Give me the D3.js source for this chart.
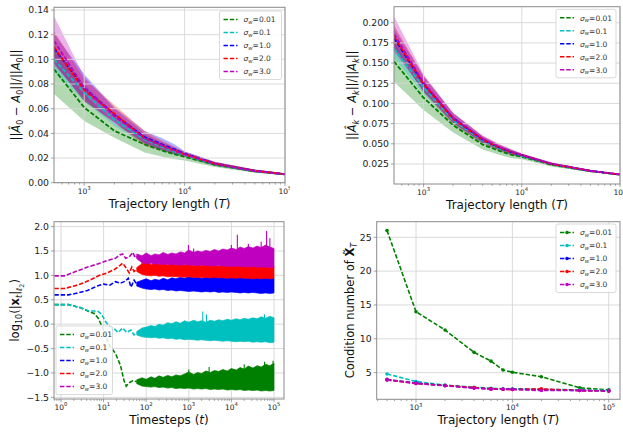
<!DOCTYPE html>
<html>
<head>
<meta charset="utf-8">
<script src="https://cdn.jsdelivr.net/npm/d3@7"></script>
<style>
body { margin: 0; background: #fff; }
svg text { font-family: "DejaVu Sans", sans-serif; }
</style>
</head>
<body>
<script>
// ---- data ----
const trajLen = [500, 1000, 2000, 4000, 6000, 8000, 10000, 20000, 50000, 100000];
const sigmaLabels = ["0.01", "0.1", "1.0", "2.0", "3.0"];
const colors = ["#008000", "#00bfbf", "#0000ff", "#ff0000", "#bf00bf"];

// relative error of A0 (mean, half band) per sigma
const a0Mean = [
    [0.092, 0.061, 0.042, 0.031, 0.026, 0.023, 0.021, 0.0145, 0.0092, 0.0068],
    [0.100, 0.073, 0.051, 0.035, 0.029, 0.025, 0.0225, 0.015, 0.0095, 0.0068],
    [0.109, 0.077, 0.055, 0.037, 0.031, 0.027, 0.0235, 0.0155, 0.0097, 0.0069],
    [0.110, 0.075, 0.056, 0.036, 0.030, 0.026, 0.023, 0.0155, 0.0097, 0.0069],
    [0.115, 0.077, 0.054, 0.036, 0.030, 0.026, 0.023, 0.0152, 0.0095, 0.0068]
];
const a0Band = [
    [0.020, 0.011, 0.0055, 0.0065, 0.005, 0.004, 0.003, 0.0018, 0.0012, 0.0008],
    [0.010, 0.007, 0.005, 0.004, 0.003, 0.0025, 0.002, 0.0015, 0.001, 0.0007],
    [0.012, 0.011, 0.006, 0.005, 0.005, 0.004, 0.002, 0.0015, 0.001, 0.0007],
    [0.013, 0.009, 0.007, 0.006, 0.004, 0.003, 0.002, 0.0015, 0.001, 0.0007],
    [0.020, 0.009, 0.006, 0.004, 0.003, 0.0025, 0.002, 0.0015, 0.001, 0.0007]
];

// relative error of Ak
const akMean = [
    [0.152, 0.107, 0.073, 0.049, 0.041, 0.036, 0.034, 0.024, 0.0160, 0.0118],
    [0.168, 0.120, 0.079, 0.054, 0.044, 0.039, 0.035, 0.025, 0.0163, 0.0119],
    [0.181, 0.124, 0.082, 0.055, 0.045, 0.039, 0.036, 0.025, 0.0165, 0.0120],
    [0.183, 0.124, 0.081, 0.055, 0.045, 0.039, 0.036, 0.025, 0.0165, 0.0120],
    [0.186, 0.126, 0.082, 0.056, 0.046, 0.040, 0.036, 0.0255, 0.0166, 0.0120]
];
const akBand = [
    [0.025, 0.015, 0.009, 0.006, 0.005, 0.004, 0.003, 0.002, 0.001, 0.0006],
    [0.012, 0.008, 0.005, 0.004, 0.003, 0.003, 0.002, 0.0015, 0.001, 0.0006],
    [0.012, 0.010, 0.006, 0.004, 0.003, 0.003, 0.002, 0.0015, 0.001, 0.0006],
    [0.014, 0.010, 0.007, 0.005, 0.004, 0.003, 0.002, 0.0015, 0.001, 0.0006],
    [0.022, 0.010, 0.006, 0.004, 0.003, 0.003, 0.002, 0.0015, 0.001, 0.0006]
];

// condition number of X_T
const condNum = [
    [26.0, 14.0, 11.3, 8.0, 6.7, 5.4, 5.05, 4.4, 2.75, 2.45],
    [4.8, 3.7, 3.15, 2.85, 2.7, 2.6, 2.6, 2.55, 2.45, 2.35],
    [4.0, 3.45, 3.1, 2.75, 2.6, 2.55, 2.55, 2.5, 2.35, 2.3],
    [3.95, 3.4, 3.1, 2.8, 2.6, 2.55, 2.5, 2.6, 2.35, 2.3],
    [3.9, 3.4, 3.05, 2.7, 2.55, 2.55, 2.5, 2.35, 2.35, 2.3]
];

// log10 of state norm: smooth start [t, value]
const normEarly = [
    [[0.7, 0.4], [1.5, 0.4], [2.8, 0.34], [4.5, 0.26], [6, 0.22], [7.5, 0.12], [10, -0.12], [14, -0.45], [19, -0.6], [25, -0.85], [30, -1.15], [34, -1.27], [40, -1.2], [48, -1.16], [60, -1.18]],
    [[0.7, 0.4], [1.5, 0.4], [2.8, 0.34], [4.5, 0.27], [6, 0.27], [7.5, 0.26], [9, 0.2], [11, 0.06], [14, -0.06], [18, -0.1], [22, -0.17], [28, -0.08], [35, -0.17], [44, -0.12], [52, -0.22], [60, -0.18]],
    [[0.7, 0.6], [1.5, 0.6], [2.5, 0.64], [4.2, 0.69], [7, 0.78], [10, 0.82], [14, 0.8], [19, 0.87], [25, 0.84], [32, 0.88], [38, 0.94], [44, 0.76], [52, 0.9], [60, 0.82]],
    [[0.7, 0.73], [1.2, 0.73], [2.2, 0.79], [3.5, 0.85], [5.5, 0.93], [8, 1.0], [12, 1.05], [18, 1.12], [24, 1.2], [28, 1.25], [34, 1.15], [40, 1.05], [46, 1.17], [52, 1.08], [60, 1.12]],
    [[0.7, 0.99], [1.2, 0.99], [2.4, 1.09], [4.2, 1.17], [7, 1.23], [12, 1.3], [19, 1.35], [24, 1.42], [28, 1.44], [33, 1.35], [40, 1.38], [49, 1.47], [55, 1.36], [60, 1.39]]
];
// noisy part: envelope of the fluctuations
const noiseT = [60, 80, 100, 130, 160, 200, 250, 320, 400, 500, 630, 800, 1000, 1300, 1600, 2000, 2500,
    3200, 4000, 5000, 6300, 8000, 10000, 13000, 16000, 20000, 25000, 32000, 40000, 50000, 63000, 80000, 100000];
const noiseHi = [
    [-1.14, -1.10, -1.13, -1.08, -1.11, -1.06, -1.09, -1.05, -1.08, -1.04, -1.06, -1.02, -0.98, -1.03, -0.99, -1.01, -0.96,
        -0.99, -0.95, -0.97, -0.93, -0.96, -0.91, -0.94, -0.89, -0.92, -0.86, -0.90, -0.85, -0.88, -0.82, -0.85, -0.80],
    [-0.15, -0.08, -0.06, -0.03, -0.05, 0.0, -0.02, 0.03, 0.01, 0.05, 0.02, 0.07, 0.04, 0.08, 0.05, 0.07, 0.04,
        0.08, 0.06, 0.09, 0.07, 0.10, 0.08, 0.11, 0.09, 0.12, 0.10, 0.13, 0.11, 0.15, 0.12, 0.16, 0.13],
    [0.86, 0.90, 0.93, 0.89, 0.92, 0.90, 0.94, 0.91, 0.95, 0.93, 0.96, 0.94, 0.97, 0.95, 0.96, 0.94, 0.96,
        0.95, 0.97, 0.95, 0.96, 0.94, 0.96, 0.95, 0.96, 0.94, 0.95, 0.94, 0.96, 0.94, 0.95, 0.94, 0.95],
    [1.16, 1.24, 1.28, 1.22, 1.26, 1.23, 1.25, 1.22, 1.24, 1.21, 1.23, 1.21, 1.22, 1.20, 1.22, 1.20, 1.21,
        1.20, 1.21, 1.19, 1.21, 1.20, 1.21, 1.19, 1.20, 1.19, 1.20, 1.19, 1.20, 1.19, 1.20, 1.19, 1.19],
    [1.44, 1.40, 1.46, 1.40, 1.44, 1.42, 1.47, 1.43, 1.46, 1.44, 1.48, 1.46, 1.52, 1.47, 1.50, 1.48, 1.51,
        1.49, 1.53, 1.50, 1.54, 1.52, 1.56, 1.53, 1.58, 1.55, 1.59, 1.56, 1.60, 1.57, 1.62, 1.58, 1.55]
];
const noiseLo = [
    [-1.22, -1.27, -1.28, -1.29, -1.28, -1.30, -1.29, -1.31, -1.30, -1.32, -1.31, -1.32, -1.31, -1.33, -1.32, -1.33, -1.32,
        -1.34, -1.33, -1.34, -1.33, -1.35, -1.34, -1.35, -1.34, -1.36, -1.35, -1.36, -1.35, -1.37, -1.36, -1.37, -1.36],
    [-0.22, -0.26, -0.27, -0.28, -0.27, -0.29, -0.28, -0.30, -0.29, -0.31, -0.30, -0.32, -0.31, -0.32, -0.33, -0.32, -0.33,
        -0.34, -0.33, -0.34, -0.35, -0.34, -0.35, -0.36, -0.35, -0.36, -0.35, -0.37, -0.36, -0.37, -0.36, -0.38, -0.37],
    [0.78, 0.74, 0.72, 0.71, 0.72, 0.70, 0.71, 0.69, 0.70, 0.68, 0.69, 0.68, 0.67, 0.68, 0.67, 0.66, 0.67,
        0.66, 0.67, 0.65, 0.66, 0.65, 0.66, 0.65, 0.64, 0.65, 0.64, 0.65, 0.64, 0.63, 0.64, 0.63, 0.64],
    [1.08, 1.02, 1.00, 0.99, 1.00, 0.98, 0.99, 0.97, 0.98, 0.97, 0.97, 0.96, 0.97, 0.96, 0.96, 0.95, 0.96,
        0.95, 0.96, 0.95, 0.95, 0.94, 0.95, 0.94, 0.95, 0.94, 0.94, 0.93, 0.94, 0.93, 0.94, 0.93, 0.94],
    [1.34, 1.26, 1.24, 1.25, 1.23, 1.24, 1.22, 1.23, 1.22, 1.22, 1.21, 1.22, 1.21, 1.21, 1.20, 1.21, 1.20,
        1.20, 1.19, 1.20, 1.19, 1.19, 1.18, 1.19, 1.18, 1.18, 1.17, 1.18, 1.17, 1.17, 1.17, 1.16, 1.16]
];
// isolated peaks sticking out of the noise [t, value]
const noiseSpikes = [
    [[1000, -0.93], [3000, -0.88], [20000, -0.82], [60000, -0.77], [95000, -0.75]],
    [[2130, 0.26], [2600, 0.2], [60000, 0.2]],
    [],
    [[80, 1.3], [120, 1.29]],
    [[980, 1.62], [1300, 1.55], [10000, 1.62], [13800, 1.83], [25000, 1.65], [50000, 1.69], [67000, 1.91], [80000, 1.76]]
];

const yTicksA0 = [0, 0.02, 0.04, 0.06, 0.08, 0.10, 0.12, 0.14];
const yTicksAk = [0.025, 0.05, 0.075, 0.1, 0.125, 0.15, 0.175, 0.2];
const yTicksNorm = [-1.5, -1.0, -0.5, 0, 0.5, 1.0, 1.5, 2.0];
const yTicksCond = [5, 10, 15, 20, 25];

const DASH = "4.4,1.9";
const svg = d3.select("body").append("svg").attr("width", 623).attr("height", 434);
const defs = svg.append("defs");

// tekst s indexy
function richText(sel, parts, size) {
    let cur = 0;
    parts.forEach(p => {
        const lv = p.lv || 0;
        const off = [0, 0.28, 0.45][lv] * size;
        const fs = [1, 0.7, 0.55][lv] * size;
        sel.append("tspan")
            .attr("dy", off - cur)
            .attr("font-size", fs)
            .attr("font-style", p.it ? "italic" : null)
            .attr("font-weight", p.b ? "bold" : null)
            .text(p.t);
        cur = off;
    });
}

function makeAxes(cfg) {
    const g = svg.append("g");
    if (cfg.clipRight) {
        defs.append("clipPath").attr("id", cfg.id + "_outer")
            .append("rect").attr("x", 0).attr("y", 0).attr("width", cfg.clipRight).attr("height", 434);
        g.attr("clip-path", `url(#${cfg.id}_outer)`);
    }
    defs.append("clipPath").attr("id", cfg.id + "_in")
        .append("rect").attr("x", cfg.left).attr("y", cfg.top)
        .attr("width", cfg.right - cfg.left).attr("height", cfg.bottom - cfg.top);
    const x = d3.scaleLog().domain(cfg.xDomain).range([cfg.left, cfg.right]);
    const y = d3.scaleLinear().domain(cfg.yDomain).range([cfg.bottom, cfg.top]);
    const fills = g.append("g").attr("clip-path", `url(#${cfg.id}_in)`);
    const grid = g.append("g").attr("stroke", "#d6d6d6").attr("stroke-width", 0.9);
    cfg.decades.forEach(k => {
        grid.append("line").attr("x1", x(10 ** k)).attr("x2", x(10 ** k))
            .attr("y1", cfg.top).attr("y2", cfg.bottom);
    });
    cfg.yTicks.forEach(v => {
        grid.append("line").attr("x1", cfg.left).attr("x2", cfg.right)
            .attr("y1", y(v)).attr("y2", y(v));
    });
    const lines = g.append("g").attr("clip-path", `url(#${cfg.id}_in)`);
    // ramecek
    g.append("rect").attr("x", cfg.left).attr("y", cfg.top)
        .attr("width", cfg.right - cfg.left).attr("height", cfg.bottom - cfg.top)
        .attr("fill", "none").attr("stroke", "#8a8a8a").attr("stroke-width", 1);
    const ticks = g.append("g").attr("stroke", "#8a8a8a").attr("stroke-width", 0.8);
    cfg.yTicks.forEach(v => {
        ticks.append("line").attr("x1", cfg.left - 3).attr("x2", cfg.left).attr("y1", y(v)).attr("y2", y(v));
        g.append("text").attr("x", cfg.left - 5).attr("y", y(v) + 3.3)
            .attr("text-anchor", "end").attr("font-size", 9.3).attr("fill", "#222")
            .text(cfg.yFmt(v));
    });
    // minor ticks na log ose
    const [d0, d1] = cfg.xDomain;
    for (let k = Math.floor(Math.log10(d0)); k <= Math.ceil(Math.log10(d1)); k++) {
        for (let m = 2; m < 10; m++) {
            const t = m * 10 ** k;
            if (t > d0 && t < d1) {
                ticks.append("line").attr("x1", x(t)).attr("x2", x(t))
                    .attr("y1", cfg.bottom).attr("y2", cfg.bottom + 1.8);
            }
        }
    }
    cfg.decades.forEach(k => {
        ticks.append("line").attr("x1", x(10 ** k)).attr("x2", x(10 ** k))
            .attr("y1", cfg.bottom).attr("y2", cfg.bottom + 3.2);
        const lbl = g.append("text").attr("x", x(10 ** k)).attr("y", cfg.bottom + 11)
            .attr("text-anchor", "middle").attr("font-size", 7.5).attr("fill", "#222");
        lbl.append("tspan").text("10");
        lbl.append("tspan").attr("font-size", 5.3).attr("dy", -3.6).text(k);
    });
    // popisky os
    const xl = g.append("text").attr("x", (cfg.left + cfg.right) / 2).attr("y", cfg.bottom + 25)
        .attr("text-anchor", "middle").attr("font-size", 12).attr("fill", "#111");
    richText(xl, cfg.xLabel, 12);
    const yl = g.append("text")
        .attr("transform", `translate(${cfg.yLabelX},${(cfg.top + cfg.bottom) / 2}) rotate(-90)`)
        .attr("y", 4.2).attr("text-anchor", "middle").attr("font-size", 11.5).attr("fill", "#111");
    richText(yl, cfg.yLabel, 11.5);
    return { g, fills, lines, x, y };
}

function legend(g, bx, by, bw, withMarker) {
    g.append("rect").attr("x", bx).attr("y", by).attr("width", bw).attr("height", 68.5)
        .attr("rx", 2).attr("fill", "#fff").attr("fill-opacity", 0.85)
        .attr("stroke", "#d0d0d0").attr("stroke-width", 0.8);
    sigmaLabels.forEach((s, i) => {
        const cy = by + 8.5 + i * 13;
        g.append("line").attr("x1", bx + 4).attr("x2", bx + 18).attr("y1", cy).attr("y2", cy)
            .attr("stroke", colors[i]).attr("stroke-width", 1.6).attr("stroke-dasharray", DASH);
        if (withMarker) {
            g.append("circle").attr("cx", bx + 11).attr("cy", cy).attr("r", 1.7).attr("fill", colors[i]);
        }
        const t = g.append("text").attr("x", bx + 24).attr("y", cy + 2.7)
            .attr("font-size", 7.5).attr("fill", "#333");
        t.append("tspan").attr("font-style", "italic").text("σ");
        t.append("tspan").attr("font-style", "italic").attr("font-size", 5.3).attr("dy", 1.8).text("w");
        t.append("tspan").attr("dy", -1.8).text("=" + s);
    });
}

function drawBands(ax, means, bands) {
    const area = d3.area()
        .x((d, i) => ax.x(trajLen[i]))
        .y0(d => ax.y(d[0] - d[1]))
        .y1(d => ax.y(d[0] + d[1]));
    const line = d3.line().x((d, i) => ax.x(trajLen[i])).y(d => ax.y(d));
    means.forEach((m, s) => {
        ax.fills.append("path").datum(m.map((v, i) => [v, bands[s][i]]))
            .attr("d", area).attr("fill", colors[s]).attr("fill-opacity", 0.3);
    });
    means.forEach((m, s) => {
        ax.lines.append("path").datum(m).attr("d", line)
            .attr("fill", "none").attr("stroke", colors[s]).attr("stroke-width", 1.8)
            .attr("stroke-dasharray", DASH);
    });
}

const trajLabel = [{ t: "Trajectory length (" }, { t: "T", it: true }, { t: ")" }];
const fmt2 = d3.format(".2f"), fmt3 = d3.format(".3f"), fmt1 = d3.format(".1f");

function buildTopLeft() {
    const ax = makeAxes({
        id: "tl", left: 54, right: 285, top: 7.3, bottom: 182.7, clipRight: 290,
        xDomain: [500, 100000], yDomain: [0, 0.1422], decades: [3, 4, 5],
        yTicks: yTicksA0, yFmt: fmt2, yLabelX: 16, xLabel: trajLabel,
        yLabel: [{ t: "||" }, { t: "Â", it: 1 }, { t: "0", lv: 1 }, { t: " − " }, { t: "A", it: 1 }, { t: "0", lv: 1 },
            { t: "||/||" }, { t: "A", it: 1 }, { t: "0", lv: 1 }, { t: "||" }]
    });
    drawBands(ax, a0Mean, a0Band);
    legend(ax.g, 219.5, 11, 62, false);
}

function buildTopRight() {
    const ax = makeAxes({
        id: "tr", left: 394, right: 620, top: 6.7, bottom: 184,
        xDomain: [500, 100000], yDomain: [0.0002, 0.2198], decades: [3, 4, 5],
        yTicks: yTicksAk, yFmt: fmt3, yLabelX: 351.5, xLabel: trajLabel,
        yLabel: [{ t: "||" }, { t: "Â", it: 1 }, { t: "k", lv: 1, it: 1 }, { t: " − " }, { t: "A", it: 1 }, { t: "k", lv: 1, it: 1 },
            { t: "||/||" }, { t: "A", it: 1 }, { t: "k", lv: 1, it: 1 }, { t: "||" }]
    });
    drawBands(ax, akMean, akBand);
    legend(ax.g, 556, 9.3, 60, false);
}

function buildBottomLeft() {
    const ax = makeAxes({
        id: "bl", left: 54, right: 284, top: 221.7, bottom: 399,
        xDomain: [10 ** -0.164, 10 ** 5.235], yDomain: [-1.534, 2.10], decades: [0, 1, 2, 3, 4, 5],
        yTicks: yTicksNorm, yFmt: fmt1, yLabelX: 15,
        xLabel: [{ t: "Timesteps (" }, { t: "t", it: true }, { t: ")" }],
        yLabel: [{ t: "log" }, { t: "10", lv: 1 }, { t: "(|" }, { t: "x", b: 1 }, { t: "t", lv: 1, it: 1 }, { t: "|" },
            { t: "ℓ", lv: 1, it: 1 }, { t: "2", lv: 2 }, { t: ")" }]
    });
    const line = d3.line().x(d => ax.x(d[0])).y(d => ax.y(d[1]));
    const area = d3.area()
        .x((d, i) => ax.x(noiseT[i]))
        .y0(d => ax.y(d[0]))
        .y1(d => ax.y(d[1]));
    normEarly.forEach((pts, s) => {
        ax.lines.append("path").datum(pts).attr("d", line)
            .attr("fill", "none").attr("stroke", colors[s]).attr("stroke-width", 1.6)
            .attr("stroke-dasharray", DASH);
        ax.lines.append("path").datum(noiseLo[s].map((v, i) => [v, noiseHi[s][i]]))
            .attr("d", area).attr("fill", colors[s]).attr("stroke", colors[s]).attr("stroke-width", 0.7);
        noiseSpikes[s].forEach(p => {
            const i = Math.min(d3.bisectLeft(noiseT, p[0]), noiseT.length - 1);
            const base = (noiseHi[s][i] + noiseLo[s][i]) / 2;
            ax.lines.append("line").attr("x1", ax.x(p[0])).attr("x2", ax.x(p[0]))
                .attr("y1", ax.y(base)).attr("y2", ax.y(p[1]))
                .attr("stroke", colors[s]).attr("stroke-width", 1.1);
        });
    });
    legend(ax.g, 56, 326, 56.5, false);
}

function buildBottomRight() {
    const ax = makeAxes({
        id: "br", left: 376.7, right: 620, top: 221.7, bottom: 399.3,
        xDomain: [10 ** 2.592, 10 ** 5.117], yDomain: [1.06, 27.3], decades: [3, 4, 5],
        yTicks: yTicksCond, yFmt: d3.format("d"), yLabelX: 350, xLabel: trajLabel,
        yLabel: [{ t: "Condition number of " }, { t: "X\u0303", b: 1 }, { t: "T", lv: 1, it: 1 }]
    });
    const line = d3.line().x((d, i) => ax.x(trajLen[i])).y(d => ax.y(d));
    condNum.forEach((vals, s) => {
        ax.lines.append("path").datum(vals).attr("d", line)
            .attr("fill", "none").attr("stroke", colors[s]).attr("stroke-width", 1.6)
            .attr("stroke-dasharray", DASH);
        ax.lines.selectAll(null).data(vals).enter().append("circle")
            .attr("cx", (d, i) => ax.x(trajLen[i])).attr("cy", d => ax.y(d))
            .attr("r", 1.8).attr("fill", colors[s]);
    });
    legend(ax.g, 556, 224, 60, true);
}

buildTopLeft();
buildTopRight();
buildBottomLeft();
buildBottomRight();
</script>
</body>
</html>
